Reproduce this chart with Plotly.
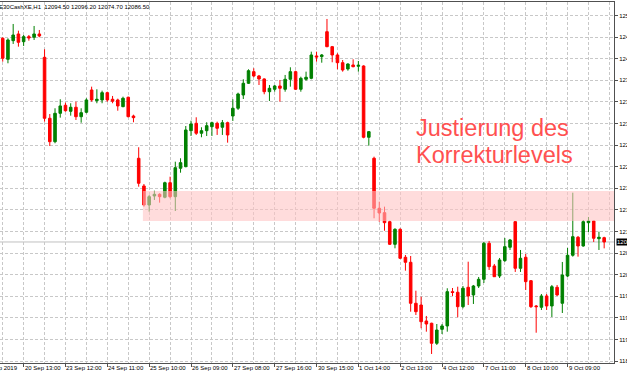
import plotly.graph_objects as go

# ---------------- data ----------------
symbol_header = "E30CashXE,H1  12094.50 12096.20 12074.70 12086.50"

opens = [12463.7, 12424.8, 12459.3, 12471.7, 12457.4, 12466.7, 12465.6, 12471.7, 12428.5, 12315.6,
         12272.2, 12324.8, 12339.7, 12328.5, 12336.0, 12318.5, 12326.7, 12368.0, 12348.2, 12349.5,
         12363.0, 12350.8, 12349.5, 12337.1, 12354.5, 12319.8, 12241.5, 12190.2, 12155.0, 12171.7,
         12174.8, 12169.3, 12196.3, 12170.4, 12223.0, 12226.0, 12292.6, 12306.3, 12287.8, 12292.6,
         12300.0, 12306.3, 12298.9, 12307.4, 12319.8, 12334.1, 12358.7, 12380.4, 12401.9, 12393.9,
         12388.4, 12364.8, 12369.3, 12375.4, 12369.3, 12387.8, 12401.9, 12369.3, 12387.8, 12389.6,
         12431.0, 12429.7, 12475.9, 12448.2, 12432.8, 12418.5, 12406.9, 12414.3, 12411.9, 12412.4,
         12280.4, 12241.5, 12148.9, 12140.8, 12124.1, 12082.2, 12110.0, 12058.2, 12048.9, 11973.0,
         11969.8, 11940.2, 11936.0, 11898.9, 11924.8, 11931.0, 11994.5, 11993.4, 11966.7, 12002.6,
         11988.4, 12005.0, 12017.4, 12084.1, 12042.1, 12023.5, 12051.9, 12076.7, 12124.1, 12037.8,
         12058.2, 12014.8, 11968.0, 11965.6, 11986.5, 11968.0, 12002.6, 11973.0, 12023.5, 12061.9,
         12095.2, 12079.1, 12122.2, 12125.4, 12092.6, 12094.5]
highs = [12465.6, 12463.7, 12490.2, 12477.8, 12469.8, 12469.8, 12486.5, 12479.1, 12443.4, 12323.5,
         12334.1, 12350.8, 12344.5, 12343.4, 12346.3, 12334.1, 12352.6, 12374.1, 12369.3, 12366.7,
         12364.8, 12356.9, 12351.9, 12355.6, 12355.6, 12322.2, 12261.9, 12193.9, 12173.5, 12181.5,
         12176.7, 12198.2, 12207.4, 12235.2, 12241.5, 12301.3, 12311.1, 12317.4, 12298.9, 12308.2,
         12309.3, 12309.3, 12312.4, 12309.3, 12350.8, 12363.0, 12387.8, 12406.3, 12408.2, 12395.8,
         12389.6, 12377.2, 12377.2, 12386.5, 12395.8, 12410.0, 12403.7, 12392.6, 12401.9, 12438.9,
         12438.9, 12434.6, 12499.5, 12449.5, 12436.0, 12423.5, 12417.4, 12424.8, 12421.7, 12413.7,
         12292.0, 12244.5, 12161.1, 12151.9, 12126.0, 12111.9, 12111.9, 12062.4, 12060.6, 11996.3,
         11985.2, 11949.5, 11937.0, 11934.6, 11934.6, 12000.8, 12001.3, 12003.7, 12005.0, 12050.0,
         12006.9, 12021.7, 12086.5, 12088.4, 12045.8, 12056.9, 12093.9, 12092.1, 12125.0, 12071.7,
         12064.3, 12016.1, 11969.8, 11990.2, 11990.2, 12006.9, 12006.9, 12049.5, 12075.4, 12177.8,
         12097.6, 12127.2, 12132.8, 12126.0, 12105.6, 12096.2]
lows = [12420.4, 12417.4, 12453.2, 12448.2, 12449.5, 12459.3, 12460.6, 12465.6, 12309.3, 12264.3,
        12269.3, 12316.7, 12327.8, 12320.4, 12312.4, 12307.4, 12324.8, 12346.3, 12343.4, 12343.4,
        12346.3, 12343.4, 12329.6, 12336.0, 12317.4, 12308.2, 12188.9, 12151.9, 12142.6, 12164.3,
        12159.3, 12167.4, 12167.4, 12143.9, 12214.8, 12224.8, 12282.8, 12284.7, 12280.4, 12282.8,
        12282.8, 12284.7, 12284.7, 12270.4, 12310.6, 12331.0, 12351.3, 12379.1, 12391.5, 12377.2,
        12360.0, 12347.6, 12364.8, 12346.3, 12364.8, 12374.1, 12368.0, 12364.8, 12385.2, 12387.8,
        12420.4, 12418.5, 12447.1, 12419.3, 12406.3, 12401.9, 12403.7, 12410.0, 12401.9, 12278.5,
        12264.8, 12130.4, 12124.1, 12107.4, 12081.0, 12074.8, 12055.0, 12033.4, 11957.4, 11951.3,
        11926.7, 11920.4, 11879.1, 11895.8, 11916.1, 11920.4, 11986.5, 11947.1, 11963.7, 11969.8,
        11971.7, 12001.3, 12010.6, 12034.7, 12021.7, 12019.8, 12049.5, 12071.7, 12031.0, 12031.0,
        11997.6, 11964.3, 11918.5, 11960.6, 11960.6, 11947.6, 11986.5, 11955.0, 12021.7, 12059.3,
        12059.3, 12077.8, 12105.0, 12086.5, 12071.7, 12074.7]
closes = [12426.7, 12460.6, 12469.8, 12456.3, 12466.7, 12464.3, 12471.7, 12468.0, 12315.6, 12272.2,
          12324.8, 12338.4, 12329.6, 12336.0, 12318.5, 12326.0, 12349.5, 12349.5, 12350.8, 12363.0,
          12349.5, 12347.1, 12338.4, 12352.6, 12318.5, 12316.7, 12195.2, 12155.0, 12170.4, 12174.8,
          12170.4, 12196.3, 12170.4, 12224.1, 12233.4, 12293.9, 12305.0, 12287.8, 12292.6, 12301.9,
          12307.4, 12297.1, 12307.4, 12284.7, 12334.1, 12360.6, 12380.4, 12403.7, 12393.9, 12388.4,
          12364.8, 12371.1, 12375.4, 12371.1, 12387.8, 12401.9, 12369.3, 12389.6, 12391.5, 12432.8,
          12429.1, 12432.8, 12448.2, 12432.8, 12418.5, 12405.0, 12416.1, 12411.1, 12413.7, 12280.4,
          12290.8, 12148.9, 12140.2, 12122.2, 12082.2, 12110.0, 12056.3, 12048.9, 11973.0, 11957.4,
          11938.9, 11934.6, 11898.9, 11923.5, 11931.0, 11994.5, 11993.0, 11966.7, 12000.8, 11986.5,
          12005.0, 12017.4, 12084.1, 12040.8, 12022.2, 12053.2, 12077.8, 12090.2, 12037.8, 12056.3,
          12013.0, 11966.7, 11966.7, 11986.5, 11968.0, 12003.7, 11988.4, 12025.4, 12061.9, 12096.3,
          12079.1, 12124.1, 12125.4, 12093.4, 12095.2, 12086.5]
bar_index = list(range(len(closes)))

# x-axis time labels (one every 8 bars) and their bar positions
time_tick_index = [-4, 4, 12, 20, 28, 36, 44, 52, 60, 68, 76, 84, 92, 100, 108]
time_tick_labels = ["19 Sep 2019", "20 Sep 13:00", "23 Sep 12:00", "24 Sep 11:00", "25 Sep 10:00",
                    "26 Sep 09:00", "27 Sep 08:00", "27 Sep 16:00", "30 Sep 15:00", "1 Oct 14:00",
                    "2 Oct 13:00", "4 Oct 12:00", "7 Oct 11:00", "8 Oct 10:00", "9 Oct 09:00"]
grid_index = list(range(0, 120, 4))

# price axis ticks
price_ticks = [11866, 11906, 11946, 11986, 12026, 12066, 12106, 12146, 12186,
               12226, 12266, 12306, 12346, 12386, 12426, 12466, 12506]
price_tick_labels = ["%.2f" % v for v in price_ticks]

# correction zone (rectangle) and its label
zone_start_index = 26.8
zone_low = 12125.4
zone_high = 12180.9
note_lines = ["Justierung des", "Korrekturlevels"]
note_index = 78.6
note_prices = [12297.6, 12247.6]

# ---------------- figure ----------------
X_RANGE = [-0.52, 116.88]
Y_RANGE = [11862.4, 12530.9]
FONT = "Liberation Sans, Arial, sans-serif"
GREEN = "#008000"
RED = "#FF0000"

fig = go.Figure()
fig.add_trace(go.Candlestick(
    x=bar_index, open=opens, high=highs, low=lows, close=closes,
    increasing=dict(line=dict(color=GREEN, width=1), fillcolor=GREEN),
    decreasing=dict(line=dict(color=RED, width=1), fillcolor=RED),
    whiskerwidth=0, hoverinfo="skip", showlegend=False,
))

# last price line
fig.add_shape(type="line", xref="paper", x0=0, x1=1, yref="y", y0=closes[-1], y1=closes[-1],
              line=dict(color="#C0C0C0", width=1), layer="below")

# correction zone
fig.add_shape(type="rect", xref="x", yref="y", x0=zone_start_index, x1=X_RANGE[1],
              y0=zone_low, y1=zone_high, fillcolor="rgb(255,195,195)", opacity=0.58,
              line=dict(width=0), layer="above")

def xfrac(i):
    return (i - X_RANGE[0]) / (X_RANGE[1] - X_RANGE[0])

annotations = []
for idx, lab in zip(time_tick_index, time_tick_labels):
    annotations.append(dict(text=lab, xref="paper", yref="paper", x=xfrac(idx), y=-0.0145,
                            xanchor="left", yanchor="middle", showarrow=False, xshift=-1,
                            font=dict(family=FONT, size=6, color="#000000")))
# header
annotations.append(dict(text=symbol_header, xref="paper", yref="paper", x=0, y=1 - 5.5 / 361,
                        xanchor="left", yanchor="middle", showarrow=False, xshift=-3,
                        font=dict(family=FONT, size=6, color="#000000")))
# note text
for line, p in zip(note_lines, note_prices):
    annotations.append(dict(text=line, xref="x", yref="y", x=note_index, y=p,
                            xanchor="left", yanchor="middle", showarrow=False,
                            font=dict(family=FONT, size=23.5, color="#FF5050")))
# last price tag
annotations.append(dict(text="%.2f" % closes[-1], xref="paper", yref="y", x=1, y=closes[-1],
                        xanchor="left", yanchor="middle", showarrow=False, xshift=2,
                        bgcolor="#000000", borderpad=0,
                        font=dict(family=FONT, size=6, color="#FFFFFF")))

fig.update_layout(
    width=627, height=376,
    margin=dict(l=0, r=13, t=2, b=13, autoexpand=False),
    paper_bgcolor="#FFFFFF", plot_bgcolor="#FFFFFF",
    showlegend=False,
    annotations=annotations,
    xaxis=dict(range=X_RANGE, rangeslider=dict(visible=False), fixedrange=True,
               automargin=False,
               tickmode="array", tickvals=time_tick_index, ticktext=[""] * len(time_tick_index),
               ticks="outside", ticklen=3, tickcolor="#505050",
               showgrid=True, gridcolor="#C8C8C8", griddash="3px,2px", gridwidth=1,
               minor=dict(tickmode="array", tickvals=grid_index, showgrid=True,
                          gridcolor="#C8C8C8", griddash="3px,2px", ticks=""),
               showline=True, linecolor="#505050", linewidth=1, mirror=True,
               zeroline=False),
    yaxis=dict(range=Y_RANGE, side="right", fixedrange=True, automargin=False,
               tickmode="array", tickvals=price_ticks, ticktext=price_tick_labels,
               ticks="outside", ticklen=3, tickcolor="#505050",
               tickfont=dict(family=FONT, size=6, color="#000000"),
               showgrid=True, gridcolor="#C8C8C8", griddash="3px,2px", gridwidth=1,
               showline=True, linecolor="#505050", linewidth=1, zeroline=False),
)

fig.write_html("out.html", config={"displayModeBar": False, "staticPlot": True})
